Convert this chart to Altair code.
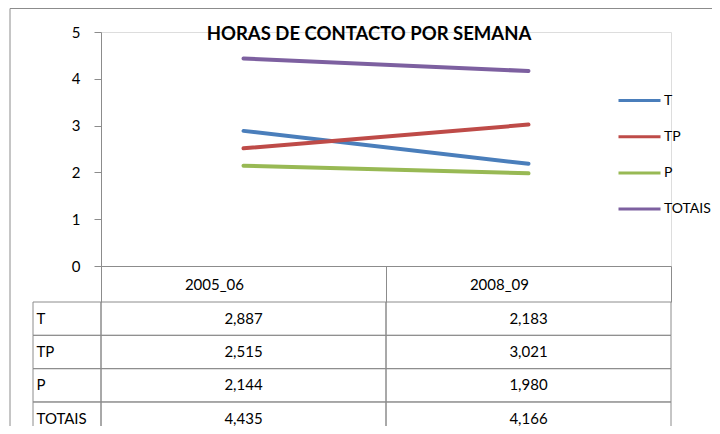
import altair as alt
import pandas as pd

# ---- data ----
categories = ["2005_06", "2008_09"]
series = ["T", "TP", "P", "TOTAIS"]
t_values = [2.887, 2.183]
tp_values = [2.515, 3.021]
p_values = [2.144, 1.980]
totais_values = [4.435, 4.166]
y_ticks = [0, 1, 2, 3, 4, 5]
colors = ["#4A7EBB", "#BE4B48", "#98B954", "#7D60A0"]
title_text = "HORAS DE CONTACTO POR SEMANA"

rows = []
for s, vals in zip(series, [t_values, tp_values, p_values, totais_values]):
    for c, v in zip(categories, vals):
        rows.append({"serie": s, "ano": c, "valor": v})
df = pd.DataFrame(rows)
series_df = pd.DataFrame({"serie": series})

FONT = "Lato"
GRID = "#8c8c8c"

x_scale = alt.Scale(type="band", domain=categories, paddingInner=0, paddingOuter=0)
row_scale = alt.Scale(type="band", domain=series, range=[270, 403.3], paddingInner=0, paddingOuter=0)

frame = alt.Chart(alt.Data(values=[{}])).mark_rect(
    fill="transparent", stroke=GRID, strokeWidth=1
).encode(
    x=alt.value(-91), x2=alt.value(900), y=alt.value(-23.5), y2=alt.value(900)
)

label_cells = alt.Chart(series_df).mark_rect(
    fill="transparent", stroke=GRID, strokeWidth=1
).encode(
    x=alt.value(-68), x2=alt.value(0),
    y=alt.Y("serie:N", scale=row_scale,
            axis=alt.Axis(orient="left", title=None, domain=False, ticks=False,
                          labelAlign="left", labelPadding=65, labelBaseline="middle",
                          labelFontSize=15, labelFont=FONT, labelColor="black")),
)

cells = alt.Chart(df).mark_rect(
    fill="transparent", stroke=GRID, strokeWidth=1
).encode(
    x=alt.X("ano:N", scale=x_scale),
    y=alt.Y("serie:N", scale=row_scale, axis=None),
)

texts = alt.Chart(df).transform_calculate(
    rotulo="replace(format(datum.valor, '.3f'), '.', ',')"
).mark_text(fontSize=15, font=FONT, baseline="middle", color="black").encode(
    x=alt.X("ano:N", scale=x_scale),
    y=alt.Y("serie:N", scale=row_scale, axis=None),
    text="rotulo:N",
)

lines = alt.Chart(df).mark_line(strokeWidth=4, strokeCap="round").encode(
    x=alt.X("ano:N", scale=x_scale,
            axis=alt.Axis(title=None, orient="bottom", domainColor=GRID, tickColor=GRID,
                          tickBand="extent", tickSize=36, labelPadding=-18,
                          labelBaseline="middle", labelAngle=0, labelFontSize=15,
                          labelFont=FONT, labelColor="black")),
    y=alt.Y("valor:Q", scale=alt.Scale(domain=[0, 5], nice=False),
            axis=alt.Axis(values=y_ticks, title=None, grid=False, orient="left",
                          domainColor=GRID, tickColor=GRID, tickSize=7, labelPadding=14,
                          labelFontSize=15, labelFont=FONT, labelColor="black")),
    color=alt.Color("serie:N", scale=alt.Scale(domain=series, range=colors),
                    legend=alt.Legend(title=None, orient="none", legendX=516, legendY=46,
                                      symbolType="stroke", symbolSize=1764,
                                      symbolStrokeWidth=3, labelFontSize=14,
                                      labelFont=FONT, labelColor="black", labelOffset=2,
                                      rowPadding=6.2)),
)

chart = alt.layer(frame, label_cells, cells, texts, lines).resolve_scale(
    y="independent"
).properties(
    width=570,
    height=234,
    padding={"left": 93, "top": 24, "right": 41, "bottom": 160},
    autosize=alt.AutoSizeParams(type="none"),
    title=alt.Title(title_text, fontSize=18.5, fontWeight="bold", font=FONT,
                    anchor="middle", dx=-17, dy=54, baseline="alphabetic", color="black"),
).configure_view(stroke=None).configure(background="white")

chart.save("out.html", embed_options={"renderer": "svg", "actions": False})
